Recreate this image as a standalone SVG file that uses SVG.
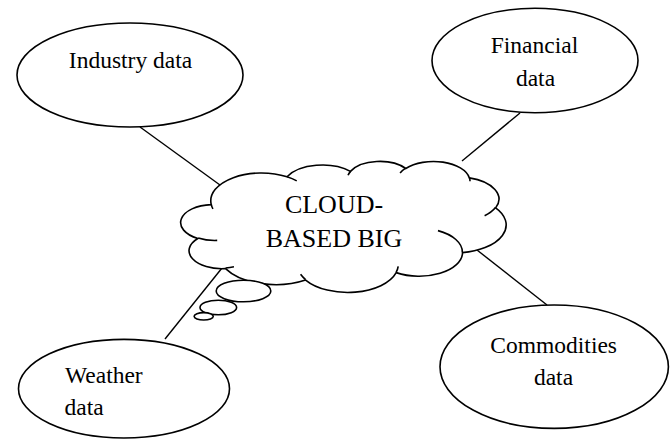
<svg xmlns="http://www.w3.org/2000/svg" width="670" height="439" viewBox="0 0 670 439">
<style>
.shape{fill:#fff;stroke:#000;stroke-width:1.6}
.hook{fill:none;stroke:#000;stroke-width:1.6}
.conn{stroke:#000;stroke-width:1.4;fill:none}
.lbl{font-family:"Liberation Serif","Times New Roman",serif;font-size:23.5px;fill:#000}
.big{font-family:"Liberation Serif","Times New Roman",serif;font-size:26px;fill:#000;text-anchor:middle}
</style>
<rect width="670" height="439" fill="#fff"/>
<g id="connectors">
<line class="conn" x1="140" y1="127" x2="220" y2="185"/>
<line class="conn" x1="520" y1="113" x2="462" y2="161"/>
<line class="conn" x1="165" y1="339" x2="222" y2="268"/>
<line class="conn" x1="477" y1="250" x2="547" y2="305"/>
</g>
<g id="industry">
<ellipse class="shape" cx="130" cy="75" rx="113" ry="52"/>
<text class="lbl" x="130.5" y="68" text-anchor="middle">Industry data</text>
</g>
<g id="financial">
<ellipse class="shape" cx="535" cy="60.5" rx="103" ry="52.2"/>
<text class="lbl" x="534.5" y="53" text-anchor="middle">Financial</text>
<text class="lbl" x="535.5" y="86" text-anchor="middle">data</text>
</g>
<g id="weather">
<ellipse class="shape" cx="124" cy="388.7" rx="105.5" ry="49.3"/>
<text class="lbl" x="65" y="383">Weather</text>
<text class="lbl" x="64.5" y="415">data</text>
</g>
<g id="commodities">
<ellipse class="shape" cx="554.2" cy="366.7" rx="114.2" ry="61.7"/>
<text class="lbl" x="553.7" y="353" text-anchor="middle">Commodities</text>
<text class="lbl" x="553.5" y="385" text-anchor="middle">data</text>
</g>
<g id="cloud">
<path class="shape" d="M211.25 204.58 A50.65 27.87 0 0 1 287.04 176.77 A40 22.04 0 0 1 350.43 171.4 A32.74 18.03 0 0 1 405.76 168.52 A36.43 20 0 0 1 469.39 177.9 A40 22.05 0 0 1 495.64 207.87 A50.81 27.96 0 0 1 462.55 252.58 A43.39 23.86 0 0 1 396.19 272.63 A50.64 27.94 0 0 1 305.62 280.06 A57.9 31.97 0 0 1 225.55 268.56 A32.7 17.95 0 0 1 197.85 238.47 A32.59 18.03 0 0 1 211.25 204.58 Z"/>
<path class="hook" d="M217.2 240.38 A32.59 18.03 0 0 1 198.2 237.96 M233.96 266.83 A32.7 17.95 0 0 1 225.65 267.98 M305.59 279.54 A50.64 27.94 0 0 1 300.58 274.26 M398.2 266.38 A50.64 27.94 0 0 1 396.2 272.17 M437.97 230.61 A43.39 23.86 0 0 1 462.35 252.24 M495.49 207.56 A40 22.05 0 0 1 484.62 215.67 M469.43 177.45 A36.43 20 0 0 1 470 181.29 M400.09 172.98 A36.43 20 0 0 1 405.65 168.1 M348.06 175.31 A32.74 18.03 0 0 1 350.75 171.1 M287 176.74 A50.65 27.87 0 0 1 296.75 180.84 M212.95 208.88 A50.65 27.87 0 0 1 211.25 204.58"/>
<ellipse class="shape" cx="243.5" cy="291" rx="27.3" ry="10.8"/>
<ellipse class="shape" cx="218.3" cy="307.5" rx="18.3" ry="7.3"/>
<ellipse class="shape" cx="203.7" cy="316.3" rx="9.6" ry="3.7"/>
<text class="big" x="334" y="213">CLOUD-</text>
<text class="big" x="334" y="247">BASED BIG</text>
</g>
</svg>
